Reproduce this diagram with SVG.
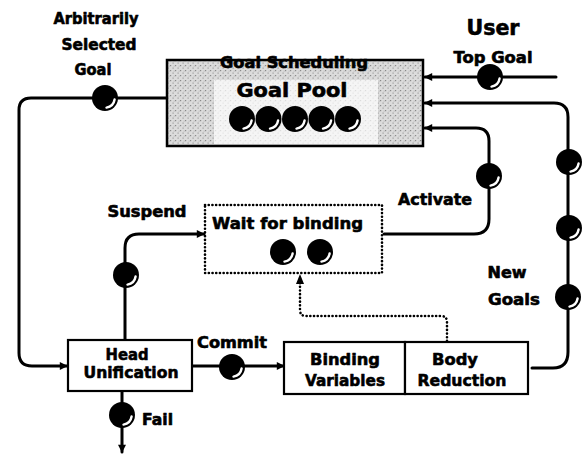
<svg xmlns="http://www.w3.org/2000/svg" xmlns:xlink="http://www.w3.org/1999/xlink" width="584" height="454" viewBox="0 0 584 454">
<style>
  text { font-family: "DejaVu Sans", "Liberation Sans", sans-serif; font-weight: bold; fill: #000; stroke: #000; stroke-width: 0.6; stroke-linejoin: round; }
  .mid { text-anchor: middle; }
  .line { fill: none; stroke: #000; stroke-width: 3; stroke-linecap: round; stroke-linejoin: round; }
  .dots { fill: none; stroke: #000; stroke-width: 2.6; stroke-dasharray: 0.1 3.6; stroke-linecap: round; }
  .box { fill: #fff; stroke: #000; stroke-width: 2.2; }
</style>
<defs>
  <marker id="arr" viewBox="0 0 10 10" refX="9" refY="5" markerWidth="9" markerHeight="8" markerUnits="userSpaceOnUse" orient="auto">
    <path d="M0,0 L10,5 L0,10 Z" fill="#000"/>
  </marker>
  <marker id="arrd" viewBox="0 0 10 10" refX="9" refY="5" markerWidth="10" markerHeight="8" markerUnits="userSpaceOnUse" orient="auto">
    <path d="M0,0 L10,5 L0,10 Z" fill="#000"/>
  </marker>
  <pattern id="stip" width="5" height="5" patternUnits="userSpaceOnUse">
    <rect width="5" height="5" fill="#dcdcdc"/>
    <rect x="0" y="0" width="1.2" height="1.2" fill="#8a8a8a"/>
    <rect x="2.5" y="2.5" width="1.2" height="1.2" fill="#9a9a9a"/>
    <rect x="3.6" y="0.6" width="1" height="1" fill="#b0b0b0"/>
  </pattern>
  <g id="ball">
    <circle r="13" fill="#000"/>
    <path d="M1.5,9.6 A9.8,9.8 0 0 0 9.6,1.5" fill="none" stroke="#fff" stroke-width="2.4" stroke-linecap="round"/>
  </g>
</defs>

<rect width="584" height="454" fill="#fff"/>

<g id="connectors">
  <!-- arbitrarily selected goal: pool -> head unification -->
  <path class="line" d="M167,98 H31 Q19,98 19,110 V353 Q19,366 32,366 H67" marker-end="url(#arr)"/>
  <!-- top goal -->
  <path class="line" d="M556,77 H425" marker-end="url(#arr)"/>
  <!-- new goals -->
  <path class="line" d="M532,368 H553 Q568,368 568,352 V117 Q568,103 554,103 H425" marker-end="url(#arr)"/>
  <!-- activate -->
  <path class="line" d="M384,234 H474 Q489,234 489,219 V141 Q489,128 476,128 H425" marker-end="url(#arr)"/>
  <!-- suspend -->
  <path class="line" d="M125,339 V248 Q125,234 139,234 H204" marker-end="url(#arr)"/>
  <!-- commit -->
  <path class="line" d="M192,366 H284" marker-end="url(#arr)"/>
  <!-- fail -->
  <path class="line" d="M122,392 V452" marker-end="url(#arrd)"/>
  <!-- dotted: body reduction -> wait for binding -->
  <path class="dots" d="M447,341 V322 Q447,316 441,316 H306 Q300,316 300,310 V283"/>
  <path d="M296,284 L300,274 L304,284 Z" fill="#000"/>

  <!-- tokens on connectors -->
  <use xlink:href="#ball" href="#ball" x="105" y="98"/>
  <use xlink:href="#ball" href="#ball" x="490" y="77"/>
  <use xlink:href="#ball" href="#ball" x="569" y="162"/>
  <use xlink:href="#ball" href="#ball" x="569" y="228"/>
  <use xlink:href="#ball" href="#ball" x="568" y="297"/>
  <use xlink:href="#ball" href="#ball" x="489" y="176"/>
  <use xlink:href="#ball" href="#ball" x="126" y="275"/>
  <use xlink:href="#ball" href="#ball" x="232" y="367"/>
  <use xlink:href="#ball" href="#ball" x="122" y="415"/>
</g>

<g id="goal-pool">
  <rect x="167" y="60" width="256" height="86" fill="url(#stip)" stroke="#000" stroke-width="2.5"/>
  <rect x="214" y="80" width="164" height="64" fill="#fff" opacity="0.7"/>
  <text class="mid" x="294" y="68" font-size="15" textLength="148" lengthAdjust="spacingAndGlyphs">Goal Scheduling</text>
  <text class="mid" x="292" y="97" font-size="20" stroke-width="1" textLength="111" lengthAdjust="spacingAndGlyphs">Goal Pool</text>
  <use xlink:href="#ball" href="#ball" x="242" y="119"/>
  <use xlink:href="#ball" href="#ball" x="268.5" y="119"/>
  <use xlink:href="#ball" href="#ball" x="295" y="119"/>
  <use xlink:href="#ball" href="#ball" x="321.5" y="119"/>
  <use xlink:href="#ball" href="#ball" x="348" y="119"/>
</g>

<g id="wait-for-binding">
  <rect x="205" y="205" width="177" height="68" class="dots"/>
  <text x="212" y="229" font-size="16" textLength="151" lengthAdjust="spacingAndGlyphs">Wait  for  binding</text>
  <use xlink:href="#ball" href="#ball" x="283" y="252"/>
  <use xlink:href="#ball" href="#ball" x="320" y="252"/>
</g>

<g id="head-unification">
  <rect class="box" x="68" y="340" width="124" height="51"/>
  <text class="mid" x="127" y="360" font-size="16" textLength="43" lengthAdjust="spacingAndGlyphs">Head</text>
  <text class="mid" x="131" y="378" font-size="16" textLength="95" lengthAdjust="spacingAndGlyphs">Unification</text>
</g>

<g id="binding-variables">
  <rect class="box" x="284" y="342" width="121" height="52"/>
  <text class="mid" x="345" y="365" font-size="16" textLength="70" lengthAdjust="spacingAndGlyphs">Binding</text>
  <text class="mid" x="345" y="386" font-size="16" textLength="80" lengthAdjust="spacingAndGlyphs">Variables</text>
</g>

<g id="body-reduction">
  <rect class="box" x="405" y="342" width="123" height="52"/>
  <text class="mid" x="455" y="365" font-size="16" textLength="46" lengthAdjust="spacingAndGlyphs">Body</text>
  <text class="mid" x="462" y="386" font-size="16" textLength="89" lengthAdjust="spacingAndGlyphs">Reduction</text>
</g>

<g id="labels">
  <text class="mid" x="96" y="24" font-size="15" textLength="85" lengthAdjust="spacingAndGlyphs">Arbitrarily</text>
  <text class="mid" x="99" y="50" font-size="15" textLength="75" lengthAdjust="spacingAndGlyphs">Selected</text>
  <text class="mid" x="93" y="75" font-size="15" textLength="37" lengthAdjust="spacingAndGlyphs">Goal</text>
  <text class="mid" x="493" y="35" font-size="21" stroke-width="1" textLength="53" lengthAdjust="spacingAndGlyphs">User</text>
  <text class="mid" x="493" y="63" font-size="15" textLength="79" lengthAdjust="spacingAndGlyphs">Top Goal</text>
  <text class="mid" x="147" y="217" font-size="15" textLength="79" lengthAdjust="spacingAndGlyphs">Suspend</text>
  <text class="mid" x="435" y="205" font-size="15" textLength="74" lengthAdjust="spacingAndGlyphs">Activate</text>
  <text class="mid" x="507" y="278" font-size="15" textLength="39" lengthAdjust="spacingAndGlyphs">New</text>
  <text class="mid" x="514" y="305" font-size="15" textLength="52" lengthAdjust="spacingAndGlyphs">Goals</text>
  <text class="mid" x="232" y="348" font-size="15" textLength="70" lengthAdjust="spacingAndGlyphs">Commit</text>
  <text x="142" y="425" font-size="15" textLength="31" lengthAdjust="spacingAndGlyphs">Fail</text>
</g>
</svg>
